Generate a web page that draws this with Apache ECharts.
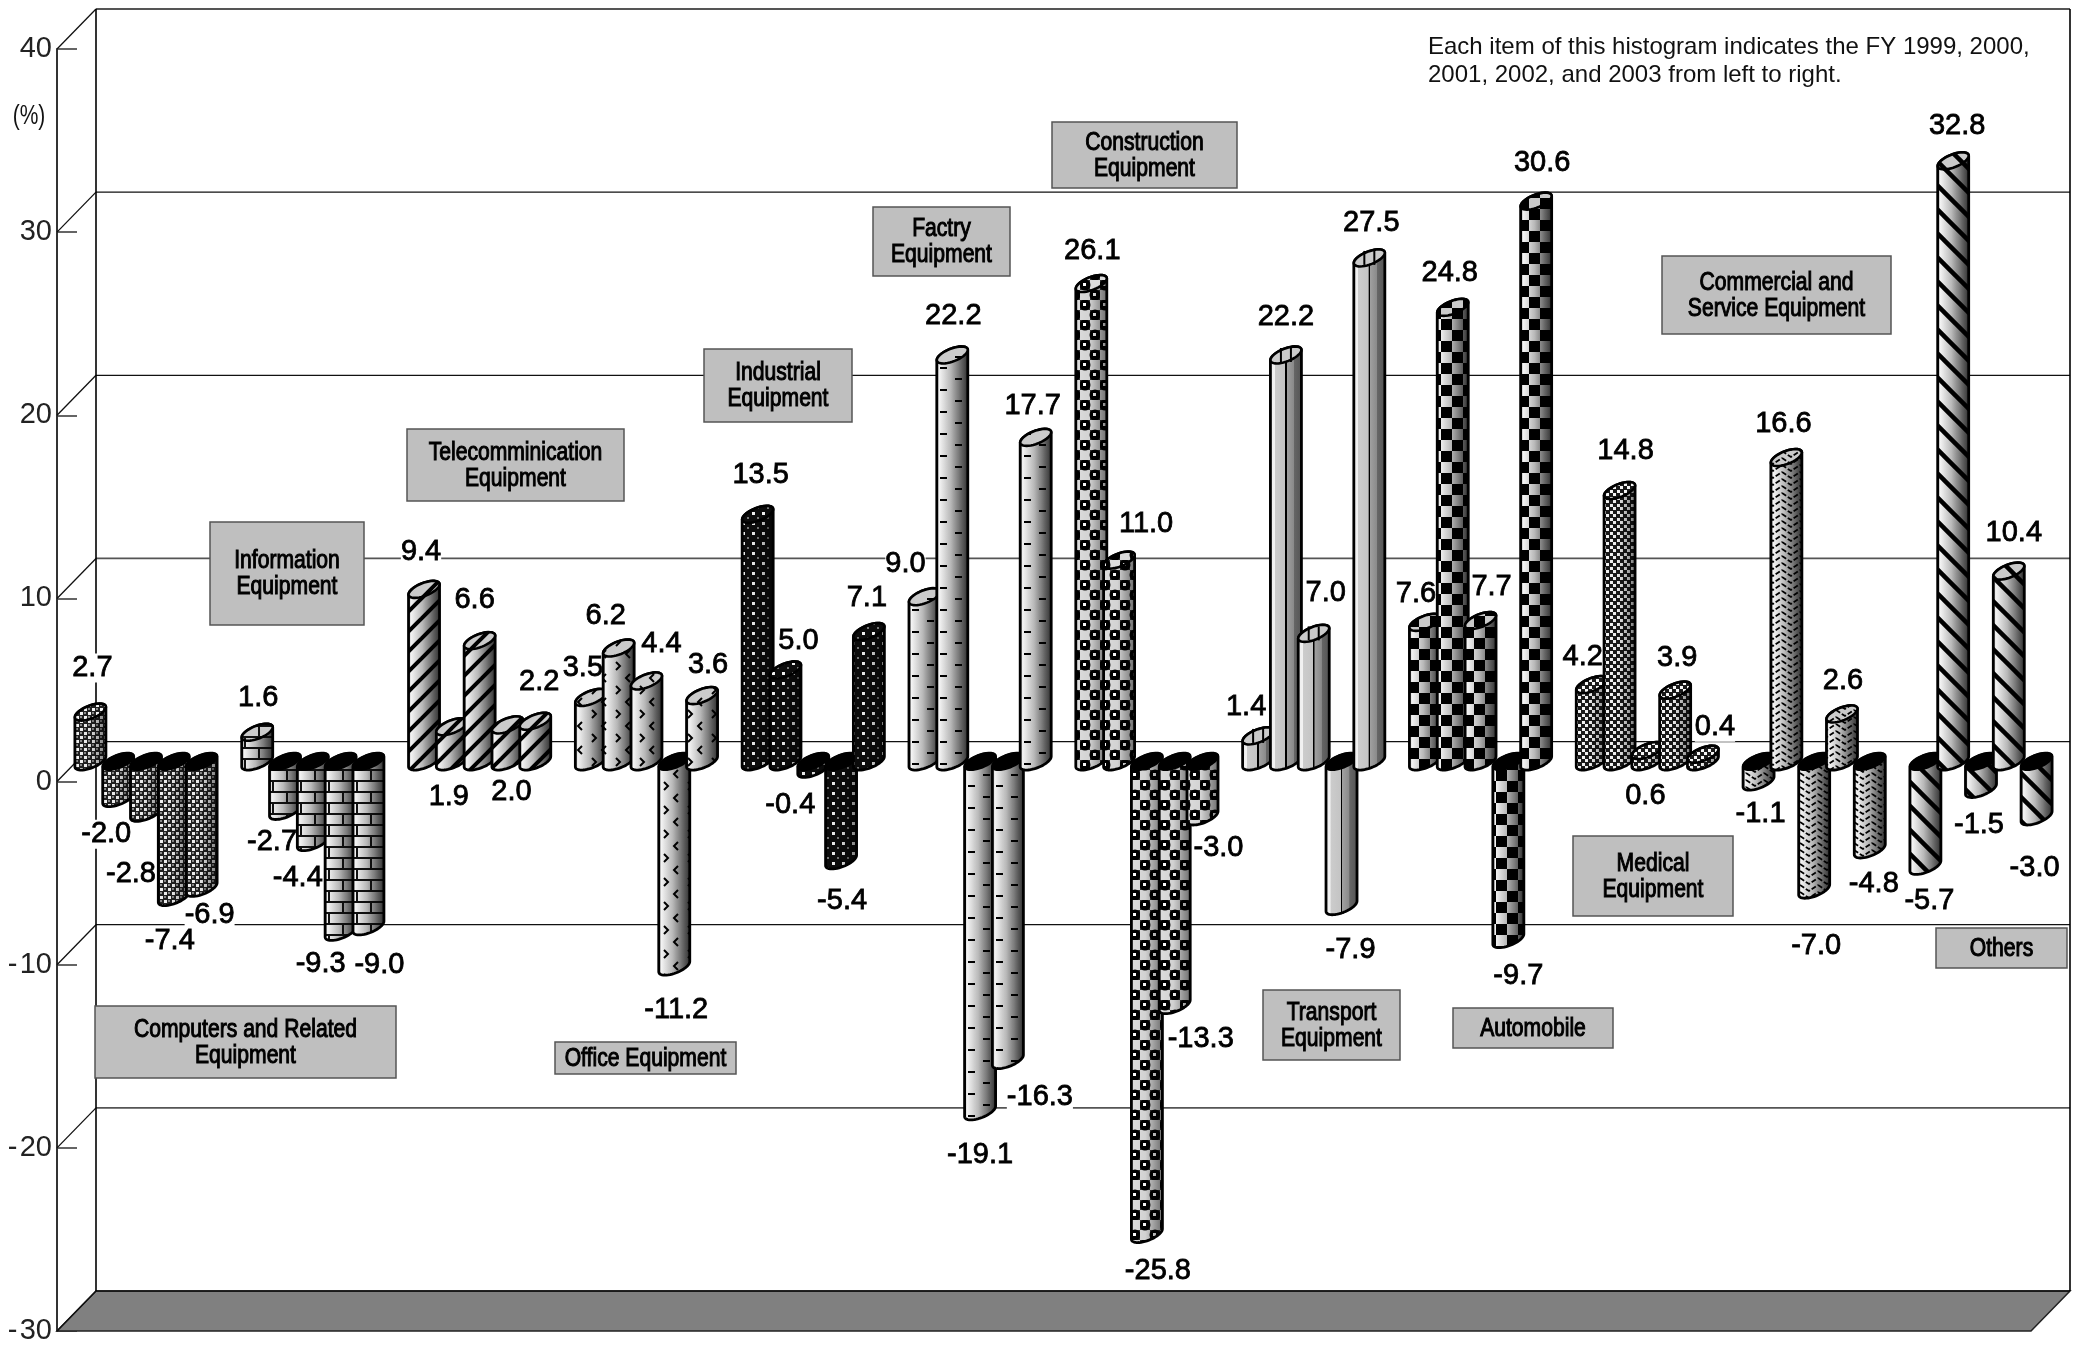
<!DOCTYPE html>
<html><head><meta charset="utf-8">
<script src="https://cdn.jsdelivr.net/npm/echarts@6/dist/echarts.min.js"></script>
<style>html,body{margin:0;padding:0;background:#fff}#c{width:2078px;height:1350px}</style>
</head><body><div id="c"></div>
<script>
// ---------- data ----------
const fiscalYears = ['1999','2000','2001','2002','2003'];
const categories = ['Computers and Related\nEquipment','Information\nEquipment','Telecomminication\nEquipment','Office Equipment','Industrial\nEquipment','Factry\nEquipment','Construction\nEquipment','Transport\nEquipment','Automobile','Medical\nEquipment','Commercial and\nService Equipment','Others'];
const computers    = [2.7,-2.0,-2.8,-7.4,-6.9];
const information  = [1.6,-2.7,-4.4,-9.3,-9.0];
const telecom      = [9.4,1.9,6.6,2.0,2.2];
const office       = [3.5,6.2,4.4,-11.2,3.6];
const industrial   = [13.5,5.0,-0.4,-5.4,7.1];
const factory      = [9.0,22.2,-19.1,-16.3,17.7];
const construction = [26.1,11.0,-25.8,-13.3,-3.0];
const transport    = [1.4,22.2,7.0,-7.9,27.5];
const automobile   = [7.6,24.8,7.7,-9.7,30.6];
const medical      = [4.2,14.8,0.6,3.9,0.4];
const commercial   = [-1.1,16.6,-7.0,2.6,-4.8];
const others       = [-5.7,32.8,-1.5,10.4,-3.0];
const seriesValues = [computers,information,telecom,office,industrial,factory,construction,transport,automobile,medical,commercial,others];
const yTicks = [-30,-20,-10,0,10,20,30,40];
const noteLines = ['Each item of this histogram indicates the FY 1999, 2000,','2001, 2002, and 2003 from left to right.'];

// ---------- layout ----------
// label shift from the end of its bar [dx,dy]
const labelShift = [
 [[2,-45],[-12,35],[-15,60],[-4,43],[8,26]],
 [[1,-35],[-13,30],[-15,35],[-20,31],[11,38]],
 [[-3,-38],[-3,69],[-5,-42],[4,66],[4,-40]],
 [[-8,-30],[-13,-33],[15,-38],[2,42],[6,-32]],
 [[3,-40],[13,-30],[-23,35],[1,40],[-2,-35]],
 [[-19,-34],[1,-40],[0,43],[32,36],[-3,-32]],
 [[1,-34],[27,-37],[11,36],[26,33],[16,30]],
 [[-12,-30],[0,-39],[12,-41],[9,43],[2,-36]],
 [[-9,-29],[-3,-35],[11,-35],[10,36],[6,-39]],
 [[-9,-29],[6,-41],[-2,44],[2,-33],[12,-28]],
 [[2,31],[-3,-35],[2,55],[1,-34],[4,34]],
 [[4,34],[4,-36],[-2,35],[5,-39],[-2,50]]
];
// category boxes [x0,y0,x1,y1]
const boxes = [[95,1006,396,1078],[210,522,364,625],[407,429,624,501],[555,1042,736,1074],[704,349,852,422],[873,207,1010,276],[1052,122,1237,188],[1263,990,1400,1060],[1453,1008,1613,1048],[1573,836,1733,916],[1662,256,1891,334],[1936,928,2067,968]];
const depth = [39,-40];
const GRID = {left:57, top:49, width:1974, height:1282};
const W = 15.5, H = 8.5, RHO = 0.6;
const FONT = '"Liberation Sans",Arial,sans-serif';

// ---------- patterns ----------
function tile(w,h,draw){const c=document.createElement('canvas');c.width=w;c.height=h;const g=c.getContext('2d');draw(g,w,h);return c;}
function dots(g,list,col,s){g.fillStyle=col;list.forEach(p=>g.fillRect(p[0],p[1],s,s));}
const patterns = [
 tile(8,8,(g)=>{g.fillStyle='#222';g.fillRect(0,0,8,8);dots(g,[[0,0],[4,4]],'#f4f4f4',3);dots(g,[[4,0],[0,4]],'#8a8a8a',2);}),
 tile(28,22,(g)=>{g.fillStyle='#111';g.fillRect(0,10,28,2);g.fillRect(0,21,28,1);g.fillRect(0,0,28,1);g.fillRect(6,0,2,10);g.fillRect(20,11,2,10);}),
 tile(20,20,(g)=>{g.strokeStyle='#000';g.lineWidth=4;for(let i=-20;i<=40;i+=20){g.beginPath();g.moveTo(i-4,24);g.lineTo(i+24,-4);g.stroke();}}),
 tile(24,24,(g)=>{g.strokeStyle='#000';g.lineWidth=2;g.beginPath();g.moveTo(6,2);g.lineTo(2,6);g.lineTo(6,10);g.moveTo(16,14);g.lineTo(20,18);g.lineTo(16,22);g.stroke();}),
 tile(10,10,(g)=>{g.fillStyle='#0c0c0c';g.fillRect(0,0,10,10);dots(g,[[2,2]],'#eee',3);dots(g,[[7,7]],'#777',2);}),
 tile(28,22,(g)=>{g.strokeStyle='#000';g.lineWidth=2;g.beginPath();g.moveTo(3,5);g.lineTo(10,5);g.moveTo(16,16);g.lineTo(23,16);g.stroke();}),
 tile(20,20,(g)=>{g.fillStyle='#333';g.fillRect(0,0,20,20);g.fillStyle='#ddd';g.fillRect(10,0,10,10);g.fillRect(0,10,10,10);g.fillStyle='#000';g.beginPath();g.arc(15,15,5.5,0,7);g.arc(5,5,5.5,0,7);g.fill();dots(g,[[3,3],[13,13]],'#fff',3);}),
 null,
 tile(22,22,(g)=>{g.fillStyle='#000';g.fillRect(0,0,11,11);g.fillRect(11,11,11,11);}),
 tile(7,7,(g)=>{g.fillStyle='#1a1a1a';g.fillRect(0,0,7,7);dots(g,[[0,0],[3,3]],'#f6f6f6',3);}),
 tile(18,14,(g)=>{g.strokeStyle='#000';g.lineWidth=1.8;g.setLineDash([5,2]);g.beginPath();g.moveTo(0,3);g.lineTo(9,9);g.lineTo(18,3);g.moveTo(0,10);g.lineTo(9,16);g.lineTo(18,10);g.moveTo(0,-4);g.lineTo(9,2);g.lineTo(18,-4);g.stroke();}),
 tile(24,24,(g)=>{g.strokeStyle='#000';g.lineWidth=4.5;for(let i=-24;i<=48;i+=24){g.beginPath();g.moveTo(i-4,-4);g.lineTo(i+28,28);g.stroke();}})
];
const shade = new echarts.graphic.LinearGradient(0,0,1,0,[
 {offset:0,color:'#aaa'},{offset:.08,color:'#f6f6f6'},{offset:.2,color:'#e6e6e6'},{offset:.45,color:'#c2c2c2'},{offset:.7,color:'#a6a6a6'},{offset:.9,color:'#808080'},{offset:1,color:'#606060'}]);
const shadeStriped = new echarts.graphic.LinearGradient(0,0,1,0,[
 {offset:0,color:'#eee'},{offset:.14,color:'#f2f2f2'},{offset:.15,color:'#ccc'},{offset:.47,color:'#c4c4c4'},{offset:.48,color:'#000'},{offset:.52,color:'#000'},{offset:.53,color:'#a0a0a0'},{offset:.75,color:'#8a8a8a'},{offset:.76,color:'#666'},{offset:1,color:'#555'}]);
const darken = new echarts.graphic.LinearGradient(0,0,1,0,[
 {offset:0,color:'rgba(0,0,0,0)'},{offset:.45,color:'rgba(0,0,0,0.05)'},{offset:1,color:'rgba(0,0,0,0.5)'}]);

// ---------- build items ----------
const slotLabels = [];
const items = [];
seriesValues.forEach((vals,g)=>{
  vals.forEach((v,j)=>{
    const slot = slotLabels.length;
    slotLabels.push(categories[g].replace('\n',' ')+' FY'+fiscalYears[j]);
    items.push([slot,v,g,labelShift[g][j][0],labelShift[g][j][1]]);
  });
  if(g<seriesValues.length-1) slotLabels.push('');
});

function ellipsePt(cx,cy,t){return [cx+W*Math.cos(t), cy+H*(-RHO*Math.cos(t)+Math.sqrt(1-RHO*RHO)*Math.sin(t))];}
function arc(cx,cy,a,b,n){const r=[];for(let i=0;i<=n;i++){r.push(ellipsePt(cx,cy,a+(b-a)*i/n));}return r;}

function renderBar(params,api){
  const slot=api.value(0), v=api.value(1), g=api.value(2);
  const mid=[depth[0]/2,depth[1]/2];
  const top=api.coord([slot,Math.max(v,0)]), bot=api.coord([slot,Math.min(v,0)]);
  const cx=top[0]+mid[0], cyT=top[1]+mid[1], cyB=bot[1]+mid[1];
  const body=arc(cx,cyT,Math.PI,2*Math.PI,16).concat(arc(cx,cyB,0,Math.PI,24));
  const cap=arc(cx,cyT,0,2*Math.PI,40);
  const pat=patterns[g];
  const kids=[{type:'polygon',shape:{points:body},style:{fill:pat?shade:shadeStriped}}];
  if(pat){
    kids.push({type:'polygon',shape:{points:body},style:{fill:{image:pat,repeat:'repeat'}}});
    kids.push({type:'polygon',shape:{points:body},style:{fill:darken}});
  }
  kids.push({type:'polygon',shape:{points:body},style:{fill:'none',stroke:'#000',lineWidth:2.8,lineJoin:'round'}});
  if(v>=0){
    kids.push({type:'polygon',shape:{points:cap},style:{fill:'#cbcbcb'}});
    if(pat) kids.push({type:'polygon',shape:{points:cap},style:{fill:{image:pat,repeat:'repeat'}}});
    else [-5,5].forEach(d=>{kids.push({type:'line',shape:{x1:cx+d,y1:cyT-7,x2:cx+d,y2:cyT+7},style:{stroke:'#000',lineWidth:2}});});
    kids.push({type:'polygon',shape:{points:cap},style:{fill:'none',stroke:'#000',lineWidth:2.6}});
  } else {
    kids.push({type:'polygon',shape:{points:cap},style:{fill:'#000',stroke:'#000',lineWidth:2}});
  }
  return {type:'group',children:kids};
}
function labelEl(api,bg){
  const slot=api.value(0), v=api.value(1);
  const p=api.coord([slot,v]);
  const s=v.toFixed(1);
  const st={text:s,x:p[0]+depth[0]/2+api.value(3),y:p[1]+depth[1]/2+api.value(4)+1,align:'center',verticalAlign:'middle',font:'29px '+FONT,fill:bg?'#fff':'#000'};
  if(bg){st.backgroundColor='#fff';}
  else {st.stroke='#000';st.lineWidth=0.8;}
  return {type:'text',style:st};
}
function renderWalls(params,api){
  const c=params.coordSys, v=api.value(0);
  const y=api.coord([0,v])[1];
  const x0=c.x, x1=c.x+c.width;
  const kids=[];
  const strong=(v===10||v===-20||v===40);
  if(v===-30){
    kids.push({type:'polygon',shape:{points:[[x0,y],[x0+depth[0],y+depth[1]],[x1+depth[0],y+depth[1]],[x1,y]]},style:{fill:'#808080',stroke:'#222',lineWidth:1.5}});
  }
  kids.push({type:'line',shape:{x1:x0+depth[0],y1:y+depth[1],x2:x1+depth[0],y2:y+depth[1]},style:{stroke:strong?'#555':'#111',lineWidth:strong?1.8:1.3}});
  kids.push({type:'line',shape:{x1:x0,y1:y,x2:x0+depth[0],y2:y+depth[1]},style:{stroke:'#111',lineWidth:1.3}});
  if(v===40){
    const yb=api.coord([0,-30])[1]+depth[1], yt=y+depth[1];
    kids.push({type:'line',shape:{x1:x0+depth[0],y1:yt,x2:x0+depth[0],y2:yb},style:{stroke:'#000',lineWidth:1.6}});
    kids.push({type:'line',shape:{x1:x1+depth[0],y1:yt,x2:x1+depth[0],y2:yb},style:{stroke:'#000',lineWidth:1.6}});
  }
  return {type:'group',children:kids};
}

// ---------- annotation graphics ----------
const graphics=[];
categories.forEach((name,i)=>{
  const b=boxes[i];
  graphics.push({type:'rect',z:20,shape:{x:b[0],y:b[1],width:b[2]-b[0],height:b[3]-b[1]},style:{fill:'#bfbfbf',stroke:'#555',lineWidth:1.5}});
  graphics.push({type:'text',z:21,x:(b[0]+b[2])/2,y:(b[1]+b[3])/2+1,scaleX:0.88,scaleY:1.04,style:{text:name,align:'center',verticalAlign:'middle',font:'24px '+FONT,lineHeight:25,fill:'#000',stroke:'#000',lineWidth:1}});
});
noteLines.forEach((t,i)=>{
  graphics.push({type:'text',z:21,x:1428,y:47+i*28,style:{text:t,align:'left',verticalAlign:'middle',font:'24px '+FONT,fill:'#111'}});
});
graphics.push({type:'text',z:21,x:29,y:116,scaleY:1.3,style:{text:'(%)',align:'center',verticalAlign:'middle',font:'21px '+FONT,fill:'#111'}});

const chart=echarts.init(document.getElementById('c'),null,{renderer:'canvas'});
chart.setOption({
  animation:false,
  backgroundColor:'#fff',
  tooltip:{show:false},
  grid:Object.assign({containLabel:false},GRID),
  xAxis:{type:'category',data:slotLabels,axisLine:{show:false},axisTick:{show:false},axisLabel:{show:false},splitLine:{show:false}},
  yAxis:{type:'value',min:-30,max:40,interval:10,
    axisLine:{show:true,lineStyle:{color:'#333',width:2}},
    axisTick:{show:true,inside:true,length:20,lineStyle:{color:'#333',width:1.5}},
    axisLabel:{margin:5,fontSize:29,color:'#222',fontFamily:FONT,formatter:v=>v<0?'-\u200a'+Math.abs(v):String(v)},
    splitLine:{show:false}},
  graphic:graphics,
  series:[
    {type:'custom',z:1,coordinateSystem:'cartesian2d',data:yTicks.map(v=>[v]),encode:{y:0},renderItem:renderWalls,silent:true,clip:false},
    {type:'custom',z:2,coordinateSystem:'cartesian2d',data:items,encode:{x:0,y:1},renderItem:(p,a)=>labelEl(a,true),silent:true,clip:false},
    {type:'custom',z:3,coordinateSystem:'cartesian2d',data:items,encode:{x:0,y:1},renderItem:renderBar,silent:true,clip:false},
    {type:'custom',z:4,coordinateSystem:'cartesian2d',data:items,encode:{x:0,y:1},renderItem:(p,a)=>labelEl(a,false),silent:true,clip:false}
  ]
});
</script></body></html>
